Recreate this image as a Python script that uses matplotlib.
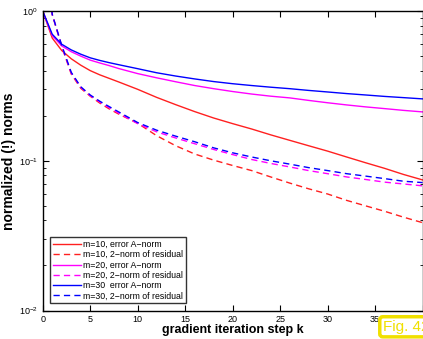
import matplotlib
matplotlib.use('Agg')
import matplotlib.pyplot as plt

# iteration steps and normalized norms for each subspace dimension m
k = [0, 1, 2, 3, 4, 5, 6, 7, 8, 10, 12, 14, 16, 18, 20, 22, 24, 26, 28, 30, 32, 34, 36, 38, 40]

err_m10 = [1.0, 0.66, 0.545, 0.48, 0.435, 0.40, 0.375, 0.355, 0.336, 0.300, 0.265, 0.237, 0.213, 0.193,
           0.177, 0.163, 0.149, 0.137, 0.126, 0.116, 0.106, 0.097, 0.089, 0.081, 0.0745]
res_m10 = [4.0, 0.95, 0.58, 0.38, 0.305, 0.27, 0.243, 0.222, 0.205, 0.178, 0.147, 0.126, 0.111, 0.101,
           0.093, 0.086, 0.078, 0.071, 0.065, 0.060, 0.0544, 0.050, 0.046, 0.042, 0.0386]
err_m20 = [1.0, 0.685, 0.585, 0.535, 0.50, 0.47, 0.45, 0.432, 0.413, 0.382, 0.358, 0.337, 0.318, 0.303,
           0.29, 0.279, 0.27, 0.263, 0.253, 0.244, 0.236, 0.229, 0.223, 0.217, 0.212]
res_m20 = [4.0, 0.95, 0.585, 0.385, 0.31, 0.272, 0.247, 0.226, 0.208, 0.177, 0.156, 0.142, 0.130, 0.119,
           0.110, 0.102, 0.096, 0.091, 0.086, 0.082, 0.078, 0.075, 0.072, 0.070, 0.068]
err_m30 = [1.0, 0.70, 0.60, 0.55, 0.515, 0.487, 0.468, 0.452, 0.438, 0.412, 0.387, 0.368, 0.352, 0.338,
           0.327, 0.318, 0.31, 0.303, 0.295, 0.288, 0.281, 0.275, 0.269, 0.264, 0.259]
res_m30 = [4.0, 0.95, 0.59, 0.39, 0.312, 0.275, 0.25, 0.23, 0.212, 0.18, 0.16, 0.146, 0.134, 0.122,
           0.113, 0.106, 0.100, 0.095, 0.090, 0.086, 0.082, 0.079, 0.076, 0.073, 0.0715]

labels = ['m=10, error A\u2212norm', 'm=10, 2\u2212norm of residual',
          'm=20, error A\u2212norm', 'm=20, 2\u2212norm of residual',
          'm=30  error A\u2212norm', 'm=30, 2\u2212norm of residual']

plt.rcParams['font.family'] = ['Liberation Sans', 'DejaVu Sans']

fig = plt.figure(figsize=(4.23, 3.39), dpi=100)
ax = fig.add_axes([0.101, 0.084, 0.898, 0.8835])

dash = (0, (4.5, 3))
ax.semilogy(k, err_m10, color='#ff2020', lw=1.0, label=labels[0])
ax.semilogy(k, res_m10, color='#ff2020', lw=1.0, ls=dash, label=labels[1])
ax.semilogy(k, err_m20, color='#ff00ff', lw=1.0, label=labels[2])
ax.semilogy(k, res_m20, color='#ff00ff', lw=1.0, ls=dash, label=labels[3])
ax.semilogy(k, err_m30, color='#0000ff', lw=1.0, label=labels[4])
ax.semilogy(k, res_m30, color='#0000ff', lw=1.0, ls=dash, label=labels[5])

ax.set_xlim(0, 40)
ax.set_ylim(1e-2, 1)
ax.set_xticks(range(0, 41, 5))
ax.tick_params(which='both', direction='in', top=True, right=True, labelsize=6.5)
ax.tick_params(which='major', length=4)
ax.tick_params(which='minor', length=2)
for s in ax.spines.values():
    s.set_linewidth(1.0)

ax.set_xlabel('gradient iteration step k', fontsize=9, fontweight='bold', labelpad=0)
ax.set_ylabel('normalized (!) norms', fontsize=10, fontweight='bold')
ax.yaxis.set_label_coords(-0.07, 0.5)

leg = ax.legend(loc='lower left', fontsize=6.3, handlelength=3.2, handletextpad=0.3,
                labelspacing=0.15, borderpad=0.3, fancybox=False, edgecolor='black',
                bbox_to_anchor=(0.008, 0.01))
leg.get_frame().set_linewidth(1.0)

# tag in the lower right corner
fig.text(0.905, 0.036, 'Fig. 42', color='#f0e000', fontsize=11, ha='left', va='center',
         bbox=dict(boxstyle='round,pad=0.2', fc='white', ec='#f0e000', lw=2.5))

fig.savefig('out.png', dpi=100)
